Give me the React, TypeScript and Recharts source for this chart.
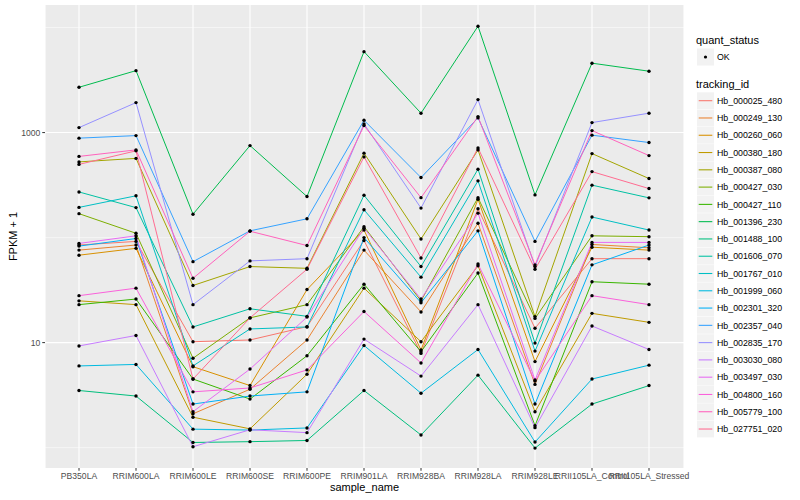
import React from "react";
import { LineChart, Line, XAxis, YAxis, CartesianGrid } from "recharts";

const samples = [
  "PB350LA",
  "RRIM600LA",
  "RRIM600LE",
  "RRIM600SE",
  "RRIM600PE",
  "RRIM901LA",
  "RRIM928BA",
  "RRIM928LA",
  "RRIM928LE",
  "RRII105LA_Control",
  "RRII105LA_Stressed",
];

// FPKM + 1, one value per sample
const hb000025_480 = [85, 92, 10.2, 10.6, 14.2, 94, 7.9, 188, 13.7, 63, 63];
const hb000249_130 = [76, 85, 2.1, 3.6, 10.6, 76, 19.6, 137, 4.0, 86, 80];
const hb000260_060 = [68, 79, 5.9, 3.9, 32, 118, 8.5, 232, 6.6, 81, 76];
const hb000380_180 = [25, 23, 1.95, 1.51, 5.0, 33, 10.2, 54, 2.2, 19, 15.6];
const hb000387_080 = [526, 568, 35, 53, 51, 637, 97, 684, 17.7, 631, 365];
const hb000427_030 = [169, 110, 7.1, 17.2, 23, 127, 25, 240, 17, 104, 102];
const hb000427_110 = [23, 26, 4.5, 2.9, 7.5, 36, 8.2, 46, 1.62, 38, 36];
const hb001396_230 = [2700, 3890, 167, 752, 246, 5900, 1530, 10300, 255, 4580, 3840];
const hb001488_100 = [3.5, 3.1, 1.12, 1.14, 1.17, 3.5, 1.32, 4.9, 0.99, 2.6, 3.9];
const hb001606_070 = [272, 193, 14.1, 21, 17.8, 253, 53, 448, 9.9, 316, 239];
const hb001767_010 = [194, 250, 6.0, 13.5, 14.1, 184, 42, 347, 8.3, 157, 118];
const hb001999_060 = [6.0, 6.2, 1.5, 1.47, 1.54, 9.4, 3.3, 8.6, 1.13, 4.5, 6.1];
const hb002301_320 = [83, 98, 2.6, 3.1, 3.4, 100, 24, 116, 2.6, 55, 85];
const hb002357_040 = [885, 936, 59, 116, 151, 1310, 373, 1380, 92, 945, 804];
const hb002835_170 = [1115, 1930, 23, 60, 63, 1210, 191, 2060, 53, 1245, 1530];
const hb003030_080 = [9.3, 11.7, 1.02, 1.48, 1.39, 10.8, 4.8, 23, 1.55, 14.4, 8.6];
const hb003497_030 = [88, 104, 2.2, 5.6, 17.5, 123, 26, 171, 4.4, 90, 90];
const hb004800_160 = [28, 33, 3.4, 3.7, 5.5, 19.8, 6.4, 56, 4.3, 28, 23];
const hb005779_100 = [593, 684, 41, 115, 84, 1165, 240, 1420, 55, 1045, 604];
const hb027751_020 = [498, 670, 4.5, 17.2, 50, 587, 64, 715, 50, 425, 293];

const trackingIds = [
  "Hb_000025_480",
  "Hb_000249_130",
  "Hb_000260_060",
  "Hb_000380_180",
  "Hb_000387_080",
  "Hb_000427_030",
  "Hb_000427_110",
  "Hb_001396_230",
  "Hb_001488_100",
  "Hb_001606_070",
  "Hb_001767_010",
  "Hb_001999_060",
  "Hb_002301_320",
  "Hb_002357_040",
  "Hb_002835_170",
  "Hb_003030_080",
  "Hb_003497_030",
  "Hb_004800_160",
  "Hb_005779_100",
  "Hb_027751_020",
];

const series = [
  hb000025_480, hb000249_130, hb000260_060, hb000380_180, hb000387_080,
  hb000427_030, hb000427_110, hb001396_230, hb001488_100, hb001606_070,
  hb001767_010, hb001999_060, hb002301_320, hb002357_040, hb002835_170,
  hb003030_080, hb003497_030, hb004800_160, hb005779_100, hb027751_020,
];

const colors = [
  "#F8766D", "#EA8331", "#D89000", "#C09B00", "#A3A500",
  "#7CAE00", "#39B600", "#00BB4E", "#00BF7D", "#00C1A3",
  "#00BFC4", "#00BAE0", "#00B0F6", "#35A2FF", "#9590FF",
  "#C77CFF", "#E76BF3", "#FA62DB", "#FF62BC", "#FF6C91",
];

const yTicks = [10, 1000];
const minorY = [1, 100, 10000];

const font = "'Liberation Sans', Arial, Helvetica, sans-serif";

const App: React.FC = () => {
  const data = samples.map((s, i) => {
    const row: Record<string, number | string> = { sample: s };
    trackingIds.forEach((id, j) => {
      row[id] = series[j][i];
    });
    return row;
  });

  return (
    <div style={{ position: "absolute", left: 0, top: 0, width: 800, height: 500, fontFamily: font }}>
      <LineChart width={800} height={500} data={data} margin={{ top: 5, right: 116, bottom: 10, left: 0 }}>
        <CartesianGrid fill="#EBEBEB" stroke="#FFFFFF" strokeWidth={1.07} horizontalValues={yTicks} />
        <CartesianGrid stroke="#FFFFFF" strokeWidth={0.53} vertical={false} horizontalValues={minorY} />
        <XAxis
          dataKey="sample"
          interval={0}
          padding={{ left: 34, right: 35 }}
          height={22}
          tickSize={2.75}
          tickMargin={2}
          axisLine={false}
          tickLine={{ stroke: "#333333" }}
          tick={{ fontSize: 8.6, fill: "#4D4D4D", fontFamily: font }}
        />
        <YAxis
          type="number"
          scale="log"
          domain={[0.64, 16400]}
          allowDataOverflow
          ticks={yTicks}
          width={45}
          tickSize={2.75}
          tickMargin={2}
          axisLine={false}
          tickLine={{ stroke: "#333333" }}
          tick={{ fontSize: 8.6, fill: "#4D4D4D", fontFamily: font }}
        />
        {trackingIds.map((id, i) => (
          <Line
            key={id}
            type="linear"
            dataKey={id}
            stroke={colors[i]}
            strokeWidth={1}
            dot={false}
            activeDot={false}
            isAnimationActive={false}
          />
        ))}
        {trackingIds.map((id) => (
          <Line
            key={id + "-pts"}
            type="linear"
            dataKey={id}
            stroke="transparent"
            dot={{ r: 1.7, fill: "#000000", stroke: "none" }}
            activeDot={false}
            isAnimationActive={false}
          />
        ))}
      </LineChart>
      <svg width={800} height={500} style={{ position: "absolute", left: 0, top: 0, pointerEvents: "none" }} fontFamily={font}>
        <text x={13} y={236.5} transform="rotate(-90 13 236.5)" textAnchor="middle" dominantBaseline="central" fontSize={11} fill="#000">
          FPKM + 1
        </text>
        <text x={364.5} y={491} textAnchor="middle" fontSize={11} fill="#000">
          sample_name
        </text>
        <text x={696} y={44} fontSize={11} fill="#000">quant_status</text>
        <rect x={697} y={48.5} width={17} height={17} fill="#F2F2F2" />
        <circle cx={705.5} cy={57} r={1.6} fill="#000" />
        <text x={717} y={60.2} fontSize={8.8} fill="#000">OK</text>
        <text x={696} y={88} fontSize={11} fill="#000">tracking_id</text>
        {trackingIds.map((id, i) => {
          const cy = 100.7 + 17.28 * i;
          return (
            <g key={id}>
              <rect x={697} y={cy - 8.4} width={17} height={16.8} fill="#F2F2F2" />
              <line x1={698.7} x2={712.3} y1={cy} y2={cy} stroke={colors[i]} strokeWidth={1.07} />
              <text x={717} y={cy + 3.2} fontSize={8.8} fill="#000">{id}</text>
            </g>
          );
        })}
      </svg>
    </div>
  );
};

export default App;
